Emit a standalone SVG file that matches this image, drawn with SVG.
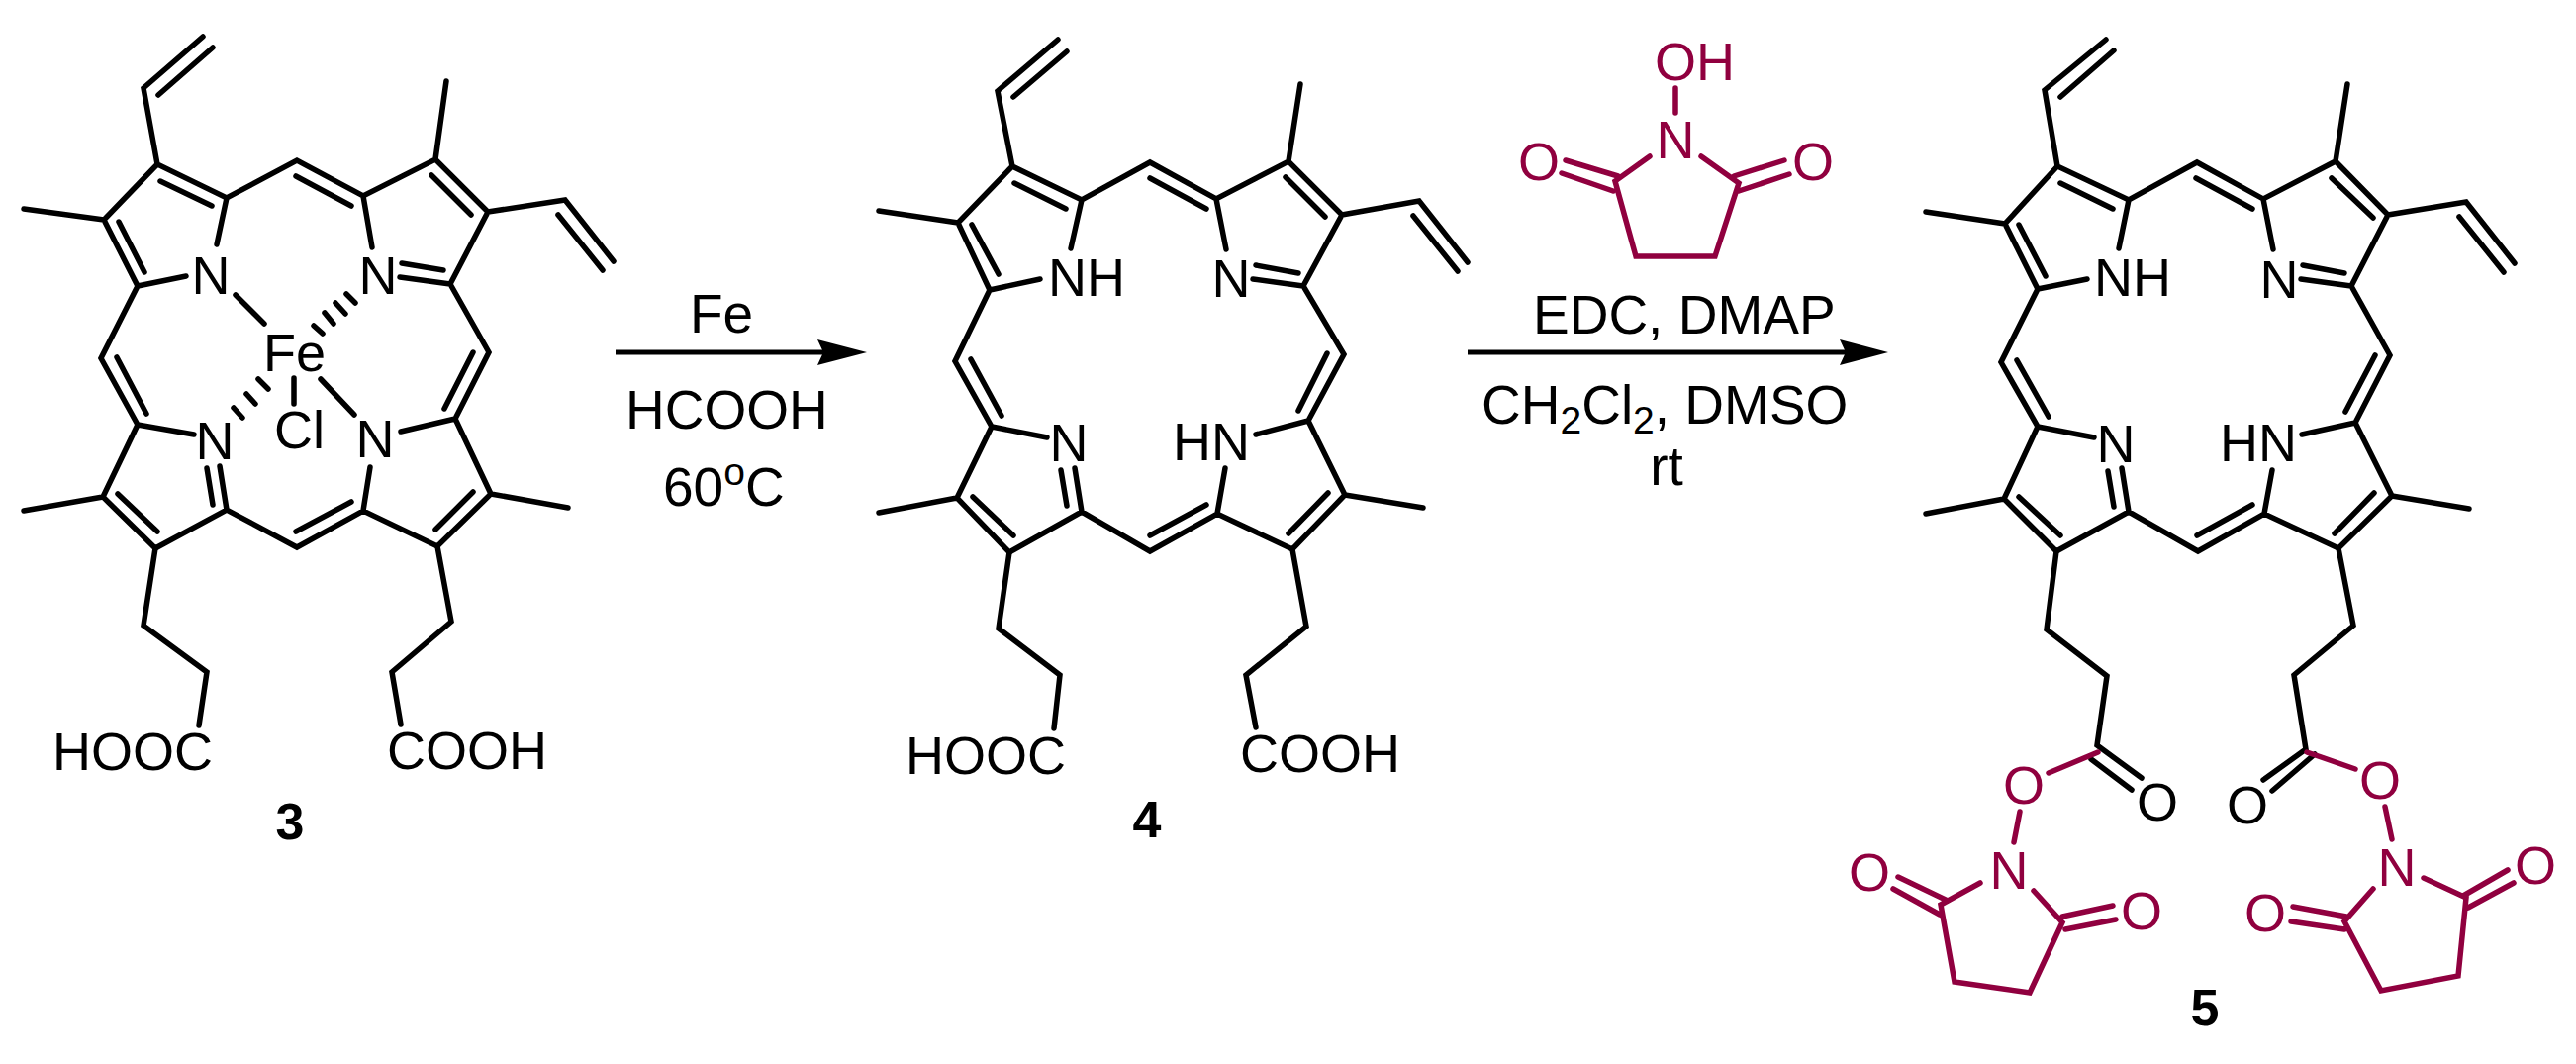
<svg xmlns="http://www.w3.org/2000/svg" width="2603" height="1075" viewBox="0 0 2603 1075">
<defs><style>
.b{fill:none;stroke:#000;stroke-width:5.5;stroke-linecap:round;stroke-linejoin:miter}
.r{fill:none;stroke:#90003f;stroke-width:5.5;stroke-linecap:round;stroke-linejoin:miter}
.a{fill:none;stroke:#000;stroke-width:5}
.t{font-family:"Liberation Sans",Arial,sans-serif;font-size:54px;fill:#000}
.g{font-family:"Liberation Sans",Arial,sans-serif;font-size:55px;fill:#000}
.tr{font-family:"Liberation Sans",Arial,sans-serif;font-size:54px;fill:#90003f}
.n{font-family:"Liberation Sans",Arial,sans-serif;font-size:52px;font-weight:bold;fill:#000}
.c{text-anchor:middle}
.s{font-size:39px}
</style></defs>
<rect width="2603" height="1075" fill="#fff"/>
<g id="compound-3">
<path class="b" d="M205 37L145 89L159 166L229 200L300 162L367 198L440 161L493 214L455 287L494 356L460 423L496 499L442 552L367 516L300 553L229 515L157 554L104 502L139 429L102 362L139 289L105 222L159 166M215 48L160 96M162 183L214 208M229 200L219 247M120 224L146 275M139 289L188 279M105 222L24 211M299 178L355 208M367 198L376 250M440 161L451 82M436 177L476 217M493 214L571 202L620 264M564 217L609 273M455 287L404 280M406 266L448 273M478 356L449 413M118 361L148 418M139 429L196 439M104 502L24 516M496 499L574 513M460 423L405 436M119 499L159 537M299 537L355 507M440 535L478 497M229 515L222 471M215 510L209 473M367 516L374 472"/>
<path class="b" d="M238 298L267 327M350 297L359 306M339 306L349 317M328 316L337 327M317 329L326 337M261 383L271 393M249 398L258 408M236 412L245 422M297 382V408M324 383L358 419"/>
<path class="b" d="M157 554L145 632L209 679L201 733M442 552L456 628L396 679L405 732"/>
<text class="t c" x="213" y="297">N</text><text class="t c" x="382" y="297">N</text>
<text class="t" x="266" y="375">Fe</text><text class="t" x="277" y="453">Cl</text>
<text class="t c" x="217" y="464">N</text><text class="t c" x="379" y="462">N</text>
<text class="t" x="53" y="778">HOOC</text><text class="t" x="391" y="777">COOH</text>
<text class="n c" x="293" y="848">3</text>
</g>
<g id="compound-4">
<path class="b" d="M1069 40L1008 92L1023 168L1093 202L1162 164L1229 201L1302 163L1356 217L1317 289L1358 358L1322 425L1359 500L1306 555L1230 519L1162 557L1093 517L1020 558L967 503L1002 431L965 365L1000 293L968 225L1023 168M1078 52L1024 98M1025 185L1077 211M1093 202L1082 251M982 227L1009 277M1000 293L1051 282M968 225L888 213M1162 180L1219 211M1229 201L1239 252M1302 163L1314 85M1299 179L1339 219M1356 217L1434 203L1483 265M1428 218L1473 274M1317 289L1266 282M1269 268L1312 276M1341 357L1312 415M981 363L1012 420M1002 431L1058 442M1322 425L1269 439M967 503L888 518M1359 500L1438 513M983 502L1024 541M1162 541L1219 510M1302 539L1342 498M1093 517L1086 473M1078 511L1072 475M1230 519L1238 473"/>
<path class="b" d="M1020 558L1009 635L1071 682L1065 736M1306 555L1320 633L1259 682L1269 735"/>
<text class="t" x="1059" y="299">NH</text><text class="t c" x="1244" y="300">N</text>
<text class="t c" x="1080" y="466">N</text><text class="t" x="1185" y="465">HN</text>
<text class="t" x="915" y="782">HOOC</text><text class="t" x="1253" y="780">COOH</text>
<text class="n c" x="1159" y="846">4</text>
</g>
<g id="compound-5">
<path class="b" d="M2128 40L2066 91L2079 168L2151 202L2220 164L2287 201L2360 163L2413 217L2376 289L2415 359L2380 427L2417 501L2363 554L2288 519L2221 557L2151 517L2078 557L2025 504L2059 431L2022 366L2059 292L2026 226L2079 168M2136 51L2082 98M2082 185L2135 211M2151 202L2141 251M2040 227L2067 279M2059 292L2109 282M2026 226L1946 214M2219 180L2276 211M2287 201L2297 252M2360 163L2372 85M2356 180L2398 220M2413 217L2492 204L2541 266M2485 219L2530 275M2376 289L2325 282M2327 268L2369 276M2400 359L2370 416M2038 364L2070 421M2059 431L2116 442M2380 427L2326 439M2025 504L1946 519M2417 501L2495 514M2040 502L2082 541M2220 541L2276 510M2359 539L2399 498M2151 517L2144 473M2136 512L2130 476M2288 519L2296 475"/>
<path class="b" d="M2078 557L2068 636L2129 683L2119 753L2164 786M2113 767L2154 798M2363 554L2378 632L2318 682L2330 757L2287 788M2339 762L2296 799"/>
<text class="t" x="2116" y="299">NH</text><text class="t c" x="2303" y="301">N</text>
<text class="t c" x="2138" y="467">N</text><text class="t" x="2243" y="466">HN</text>
<text class="t c" x="2180" y="829">O</text><text class="t c" x="2271" y="832">O</text>
<text class="n c" x="2228" y="1036">5</text>
</g>
<g id="nhs-left">
<path class="r" d="M2120 760L2070 781M2041 820L2035 851M2001 892L1961 914L1975 992L2051 1003L2084 932L2055 900M1918 886L1968 910M1913 898L1960 924M2084 926L2135 915M2087 939L2138 929"/>
<text class="tr c" x="2045" y="812">O</text><text class="tr c" x="2030" y="898">N</text><text class="tr c" x="1889" y="900">O</text><text class="tr c" x="2164" y="939">O</text>
</g>
<g id="nhs-right">
<path class="r" d="M2331 760L2380 777M2410 815L2417 848M2449 887L2492 907L2484 986L2406 1001L2369 931L2398 898M2489 905L2534 879M2494 917L2540 892M2371 926L2317 916M2369 939L2315 931"/>
<text class="tr c" x="2405" y="807">O</text><text class="tr c" x="2422" y="895">N</text><text class="tr c" x="2562" y="893">O</text><text class="tr c" x="2289" y="941">O</text>
</g>
<g id="nhs-reagent">
<path class="r" d="M1693 89V114M1667 158L1632 183L1653 259H1733L1757 185L1719 158M1582 162L1635 178M1578 175L1630 193M1752 178L1803 162M1757 193L1808 176"/>
<text class="tr" x="1672" y="81">OH</text><text class="tr c" x="1693" y="160">N</text><text class="tr c" x="1555" y="182">O</text><text class="tr c" x="1832" y="182">O</text>
</g>
<g id="connectors">
<path class="a" d="M622 356H834"/><path d="M876 356L826 343L832 356L826 369Z"/>
<path class="a" d="M1483 356H1867"/><path d="M1908 356L1859 343L1865 356L1859 369Z"/>
</g>
<g id="reagents-1">
<text class="g" x="697" y="336">Fe</text>
<text class="g" x="632" y="433">HCOOH</text>
<text class="g" x="670" y="511">60<tspan class="s" dy="-21">o</tspan><tspan dy="21">C</tspan></text>
</g>
<g id="reagents-2">
<text class="g" x="1549" y="337">EDC, DMAP</text>
<text class="g" x="1497" y="428">CH<tspan class="s" dy="10">2</tspan><tspan dy="-10">Cl</tspan><tspan class="s" dy="10">2</tspan><tspan dy="-10">, DMSO</tspan></text>
<text class="g c" x="1684" y="490">rt</text>
</g>
</svg>
